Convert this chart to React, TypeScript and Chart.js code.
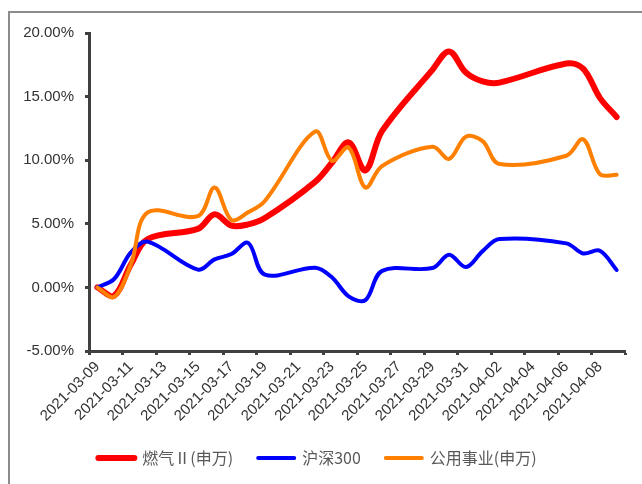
import { useEffect, useRef } from 'react';
import { Chart, registerables } from 'chart.js';

Chart.register(...registerables);

// Trading days covered by the comparison
const TRADE_DATES = [
  '2021-03-09', '2021-03-10', '2021-03-11', '2021-03-12',
  '2021-03-15', '2021-03-16', '2021-03-17', '2021-03-18', '2021-03-19',
  '2021-03-22', '2021-03-23', '2021-03-24', '2021-03-25', '2021-03-26',
  '2021-03-29', '2021-03-30', '2021-03-31', '2021-04-01', '2021-04-02',
  '2021-04-06', '2021-04-07', '2021-04-08', '2021-04-09',
];

// Cumulative returns, in percent
const GAS = [
  0, -0.65, 1.8, 3.8, 4.6, 5.75, 4.85, 4.95, 5.45, 8.3, 9.8, 11.4, 9.2,
  12.3, 17.1, 18.55, 16.9, 16.2, 16.1, 17.6, 17.2, 14.9, 13.4,
];
const HS300 = [
  0, 0.66, 2.75, 3.6, 1.4, 2.2, 2.62, 3.5, 1.0, 1.55, 0.8, -0.7, -1.0,
  1.3, 1.52, 2.57, 1.6, 2.85, 3.8, 3.46, 2.67, 2.88, 1.37,
];
const UTILITIES = [
  0, -0.75, 1.8, 5.9, 5.6, 7.85, 5.3, 5.9, 6.8, 12.25, 9.95, 11.0, 7.85,
  9.55, 11.05, 10.1, 11.85, 11.5, 9.7, 10.35, 11.65, 8.9, 8.85,
];

const X_TICK_LABELS = [
  '2021-03-09', '2021-03-11', '2021-03-13', '2021-03-15', '2021-03-17',
  '2021-03-19', '2021-03-21', '2021-03-23', '2021-03-25', '2021-03-27',
  '2021-03-29', '2021-03-31', '2021-04-02', '2021-04-04', '2021-04-06',
  '2021-04-08',
];
const Y_TICKS = [-5, 0, 5, 10, 15, 20];

const SERIES_NAMES = ['燃气Ⅱ(申万)', '沪深300', '公用事业(申万)'];

const DAY_MS = 86400000;
const START = Date.parse(TRADE_DATES[0]);
const dayOf = (d: string) => (Date.parse(d) - START) / DAY_MS;
const toPoints = (vals: number[]) =>
  vals.map((v, i) => ({ x: dayOf(TRADE_DATES[i]), y: v }));

const AXIS_COLOR = '#404040';
const TICK_FONT = { family: "'Liberation Sans', Arial, sans-serif", size: 15 };

export default function App() {
  const canvasRef = useRef<HTMLCanvasElement>(null);

  useEffect(() => {
    const lastDay = dayOf(TRADE_DATES[TRADE_DATES.length - 1]);
    const chart = new Chart(canvasRef.current!, {
      type: 'line',
      data: {
        datasets: [
          {
            label: SERIES_NAMES[0],
            data: toPoints(GAS),
            borderColor: '#FF0000',
            backgroundColor: '#FF0000',
            borderWidth: 6,
            order: 3,
          },
          {
            label: SERIES_NAMES[1],
            data: toPoints(HS300),
            borderColor: '#0000FF',
            backgroundColor: '#0000FF',
            borderWidth: 4,
            order: 2,
          },
          {
            label: SERIES_NAMES[2],
            data: toPoints(UTILITIES),
            borderColor: '#FF8000',
            backgroundColor: '#FF8000',
            borderWidth: 4,
            order: 1,
          },
        ],
      },
      options: {
        responsive: false,
        animation: false,
        layout: { padding: { top: 20, right: 17, bottom: 8, left: 0 } },
        elements: {
          point: { radius: 0, hoverRadius: 0 },
          line: {
            tension: 0.35,
            borderCapStyle: 'round',
            borderJoinStyle: 'round',
            fill: false,
          },
        },
        plugins: {
          tooltip: { enabled: false },
          legend: {
            position: 'bottom',
            labels: {
              usePointStyle: true,
              pointStyle: 'line',
              pointStyleWidth: 36,
              padding: 25,
              color: '#595959',
              font: { family: "'Noto Sans CJK SC', sans-serif", size: 16 },
              generateLabels: (c: any) =>
                c.data.datasets.map((ds: any, i: number) => ({
                  text: ds.label,
                  strokeStyle: ds.borderColor,
                  fillStyle: ds.borderColor,
                  lineWidth: ds.borderWidth,
                  lineCap: 'round',
                  pointStyle: 'line',
                  fontColor: '#595959',
                  hidden: false,
                  datasetIndex: i,
                })),
            },
          },
        },
        scales: {
          x: {
            type: 'linear',
            min: -0.5,
            max: lastDay + 0.5,
            afterBuildTicks: (s: any) => {
              s.ticks = [
                ...X_TICK_LABELS.map((l) => ({ value: dayOf(l) - 0.5 })),
                { value: lastDay + 0.5 },
              ];
            },
            afterFit: (s: any) => {
              s.height = 74;
            },
            grid: {
              drawOnChartArea: false,
              drawTicks: true,
              tickLength: 4,
              tickWidth: 3,
              tickColor: AXIS_COLOR,
            },
            border: { display: true, color: AXIS_COLOR, width: 3 },
            ticks: {
              autoSkip: false,
              minRotation: 45,
              maxRotation: 45,
              padding: 3,
              labelOffset: 8.4,
              color: '#333333',
              font: TICK_FONT,
              callback: (_v: any, i: number) => X_TICK_LABELS[i] ?? '',
            },
          },
          y: {
            type: 'linear',
            min: Y_TICKS[0],
            max: Y_TICKS[Y_TICKS.length - 1],
            afterBuildTicks: (s: any) => {
              s.ticks = Y_TICKS.map((v) => ({ value: v }));
            },
            afterFit: (s: any) => {
              s.width = 79;
            },
            grid: {
              drawOnChartArea: false,
              drawTicks: true,
              tickLength: 4,
              tickWidth: 3,
              tickColor: AXIS_COLOR,
            },
            border: { display: true, color: AXIS_COLOR, width: 3 },
            ticks: {
              padding: 11,
              color: '#333333',
              font: TICK_FONT,
              callback: (v: any) => Number(v).toFixed(2) + '%',
            },
          },
        },
      } as any,
    });
    return () => chart.destroy();
  }, []);

  return (
    <div
      style={{
        position: 'fixed',
        left: 8,
        top: 11,
        right: 0,
        bottom: 0,
        borderTop: '2px solid #8c8c8c',
        borderLeft: '2px solid #8c8c8c',
        background: '#ffffff',
      }}
    >
      <canvas ref={canvasRef} width={632} height={471} style={{ display: 'block' }} />
    </div>
  );
}
